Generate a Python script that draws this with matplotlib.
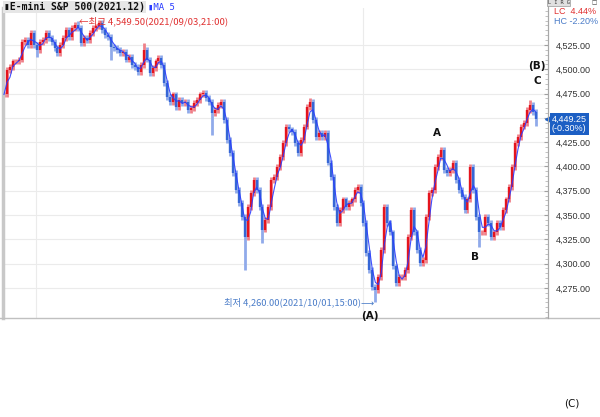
import numpy as np
import pandas as pd
import matplotlib
matplotlib.use("Agg")
from matplotlib import pyplot as plt
from matplotlib.ticker import MultipleLocator, FuncFormatter

plt.rcParams['font.family'] = ['Noto Sans CJK KR', 'DejaVu Sans']

# 종가 (차트에서 눈으로 읽은 값)
closes = [
    4474, 4499, 4502, 4508, 4508, 4510, 4528, 4530, 4525, 4537, 4525, 4520, 4528, 4530, 4537, 4532,
    4528, 4522, 4517, 4525, 4532, 4540, 4533, 4542, 4546, 4542, 4527, 4532, 4530, 4537, 4542, 4544,
    4548, 4540, 4535, 4533, 4523,
    4522, 4520, 4517, 4518, 4510, 4513, 4504, 4502, 4497, 4504, 4520, 4510, 4496, 4501, 4508, 4512,
    4504, 4486, 4471, 4466, 4474, 4461, 4468, 4465, 4466, 4458, 4460, 4465, 4468,
    4474, 4476, 4470, 4466, 4455, 4458, 4463, 4466, 4448, 4427, 4414, 4393, 4376, 4362, 4348, 4327,
    4358, 4373, 4386, 4376, 4358, 4335, 4345, 4358, 4386, 4389, 4399, 4410, 4424, 4441, 4438, 4435,
    4424, 4414, 4427, 4441, 4461,
    4466, 4448, 4430, 4434, 4430, 4434, 4404, 4389, 4358, 4342, 4355, 4366, 4358, 4362, 4366, 4376,
    4379, 4362, 4342, 4311, 4293, 4276, 4273, 4286, 4314, 4358, 4342, 4332, 4297, 4280, 4286, 4286,
    4293, 4327, 4355,
    4332, 4314, 4301, 4304, 4348, 4373, 4376, 4399, 4410, 4417, 4396, 4393, 4396, 4404, 4386, 4376,
    4369, 4355, 4366, 4399, 4376, 4348, 4332, 4332, 4348, 4342, 4327, 4332, 4342, 4338, 4355, 4366,
    4379, 4399, 4424, 4430, 4441, 4445, 4458, 4463, 4456, 4449.25,
]
# 꼬리 (인덱스, 고가/저가)
spikes = [(11, 4513), (25, 4549.5), (36, 4510), (47, 4527), (70, 4432), (81, 4293),
          (87, 4321), (103, 4470), (125, 4260), (147, 4419), (160, 4317), (177, 4468), (179, 4442)]

yticks = [4275, 4300, 4325, 4350, 4375, 4400, 4425, 4450, 4475, 4500, 4525]
last_close = 4449.25
last_pct = "(-0.30%)"

c = np.array(closes, dtype=float)
n = len(c)
o = np.r_[c[0], c[:-1]]
hi = np.maximum(o, c) + 3
lo = np.minimum(o, c) - 3
for i, v in spikes:
    hi[i] = max(hi[i], v)
    lo[i] = min(lo[i], v)
# 이동평균 (봉 수가 줄어서 창을 짧게)
ma = pd.Series(c).rolling(3, min_periods=1).mean()
x = np.arange(n)

fig = plt.figure(figsize=(6, 4.17), dpi=100)
ax = fig.add_axes([0.005, 1 - 318 / 417, 0.908, (318 - 8) / 417])

up = c >= o
red, blue = '#e5141e', '#3566d6'
# 꼬리 (연한 색)
ax.vlines(x[up], lo[up], hi[up], color='#ef8089', lw=2.0, zorder=2)
ax.vlines(x[~up], lo[~up], hi[~up], color='#90aaea', lw=2.0, zorder=2)
# 몸통
ax.vlines(x[up], np.minimum(o, c)[up], np.maximum(o, c)[up], color=red, lw=1.7, zorder=3)
ax.vlines(x[~up], np.minimum(o, c)[~up], np.maximum(o, c)[~up], color=blue, lw=1.7, zorder=3)
ax.plot(x, ma, color='#2a3cff', lw=0.8, alpha=0.9, zorder=4)

step = 532 / (n - 1)
ax.set_xlim(-1 / step, (n - 1) + 12 / step)
ax.set_ylim(4244, 4563)

ax.yaxis.tick_right()
ax.set_yticks(yticks)
ax.yaxis.set_minor_locator(MultipleLocator(5))
# 4,450 라벨은 현재가 박스에 가려짐
ax.yaxis.set_major_formatter(FuncFormatter(lambda v, p: "" if v == 4450 else f"{v:,.2f}"))
ax.tick_params(axis='y', which='major', direction='in', length=3, color='#a0a0a0',
               labelsize=6.5, labelcolor='#333333', pad=6)
ax.tick_params(axis='y', which='minor', direction='in', length=2, color='#b8b8b8')
for lab in ax.get_yticklabels():
    lab.set_family(['Liberation Sans', 'DejaVu Sans'])
ax.set_xticks([])
ax.grid(axis='y', color='#ebebeb', lw=0.8)
for gx in [(36 - 4) / step, (363 - 4) / step]:
    ax.axvline(gx, color='#ebebeb', lw=0.8, zorder=0)
for s in ['top', 'bottom']:
    ax.spines[s].set_visible(False)
ax.spines['right'].set_color('#a8a8a8')
ax.spines['left'].set_color('#c8c8c8')
ax.spines['left'].set_linewidth(2.5)

# 아래 테두리, 오른쪽 선
fig.add_artist(plt.Line2D([0, 1], [1 - 318 / 417] * 2, color='#c0c0c0', lw=1))
fig.add_artist(plt.Line2D([548 / 600] * 2, [1 - 318 / 417, 1], color='#a8a8a8', lw=0.8))

# 최고/최저 주석
ax.annotate("←최고 4,549.50(2021/09/03,21:00)", (25 + 0.3, 4549.5), xytext=(0, 0),
            textcoords='offset points', color='#e03030', fontsize=6.8, va='center', ha='left')
ax.annotate("최저 4,260.00(2021/10/01,15:00)⟶", (125 - 0.3, 4260), color='#4a7cc8',
            fontsize=6.7, va='center', ha='right', family=['Noto Sans CJK KR', 'DejaVu Sans'])

# 파동 라벨
lab_kw = dict(fontsize=7.5, fontweight='bold', color='#111111', ha='center',
              family=['DejaVu Sans'])
fig.text(370 / 600, 1 - 316 / 417, "(A)", va='center', **lab_kw)
fig.text(437 / 600, 1 - 133 / 417, "A", va='center', **lab_kw)
fig.text(475 / 600, 1 - 257 / 417, "B", va='center', **lab_kw)
fig.text(537 / 600, 1 - 66 / 417, "(B)", va='center', **lab_kw)
fig.text(537 / 600, 1 - 81 / 417, "C", va='center', **lab_kw)
fig.text(572 / 600, 1 - 403 / 417, "(C)", va='center', ha='center', fontsize=7.5,
         color='#111111', family=['DejaVu Sans'])

# 상단 제목
fig.text(4 / 600, 1 - 7 / 417, "▮E-mini S&P 500(2021.12)", fontsize=7, fontweight='bold',
         family=['DejaVu Sans Mono', 'DejaVu Sans'], va='center', color='#111111',
         bbox=dict(boxstyle='square,pad=0.15', fc='#e6e6e6', ec='none'))
fig.text(148 / 600, 1 - 7 / 417, "▮MA 5", fontsize=6.5, family=['DejaVu Sans Mono', 'DejaVu Sans'],
         va='center', color='#2a3cff')
fig.text(554 / 600, 1 - 12 / 417, "LC  4.44%", fontsize=6.5, family=['Liberation Sans'],
         va='center', color='#e03030')
fig.text(554 / 600, 1 - 21 / 417, "HC -2.20%", fontsize=6.5, family=['Liberation Sans'],
         va='center', color='#4a7cc8')
fig.text(548 / 600, 1 - 2.5 / 417, "L I R G", fontsize=3.8, family=['DejaVu Sans Mono'],
         va='center', color='#333333',
         bbox=dict(boxstyle='square,pad=0.1', fc='#e0e0e0', ec='#999999', lw=0.5))
fig.text(592 / 600, 1 - 2.5 / 417, "□", fontsize=4, family=['DejaVu Sans'],
         va='center', color='#333333')

# 현재가 박스
fig.text(552 / 600, 1 - 124 / 417, f"{last_close:,.2f}\n{last_pct}", fontsize=6.5,
         family=['Liberation Sans'], va='center', ha='left', color='white', linespacing=1.05,
         bbox=dict(boxstyle='square,pad=0.2', fc='#1c5fc4', ec='none'))
ax.plot([1.0], [last_close], marker='<', color='#1c5fc4', ms=4, transform=ax.get_yaxis_transform(),
        clip_on=False, zorder=6)

fig.savefig("out.png", dpi=100)
